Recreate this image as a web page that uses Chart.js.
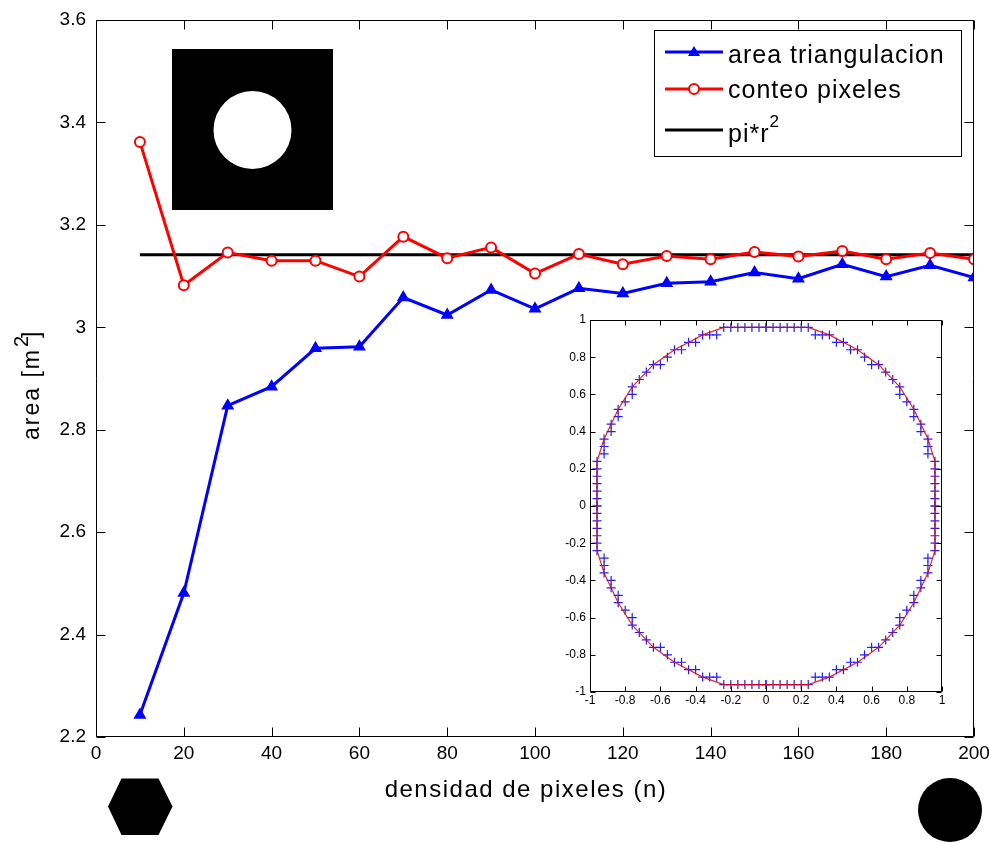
<!DOCTYPE html>
<html>
<head>
<meta charset="utf-8">
<script src="https://cdn.jsdelivr.net/npm/chart.js@4.4.1/dist/chart.umd.min.js"></script>
<style>
  html, body { margin: 0; padding: 0; background: #fff; }
  #wrap { position: relative; width: 989px; height: 843px; }
  #main { position: absolute; left: 0; top: 0; }
  #inset { position: absolute; left: 555px; top: 310px; }
</style>
</head>
<body>
<div id="wrap">
  <canvas id="main" width="989" height="843"></canvas>
  <canvas id="inset" width="395" height="400"></canvas>
</div>
<script>
// ============ datos del grafico principal ============
const densidad = [10, 20, 30, 40, 50, 60, 70, 80, 90, 100, 110, 120, 130, 140, 150, 160, 170, 180, 190, 200];
const areaTriangulacion = [2.243, 2.481, 2.847, 2.884, 2.959, 2.962, 3.058, 3.024, 3.073, 3.036,
                           3.076, 3.066, 3.086, 3.089, 3.107, 3.095, 3.123, 3.099, 3.121, 3.097];
const conteoPixeles = [3.362, 3.082, 3.146, 3.130, 3.130, 3.099, 3.177, 3.135, 3.156, 3.105,
                       3.143, 3.123, 3.139, 3.133, 3.147, 3.138, 3.149, 3.133, 3.145, 3.133];
const piR2 = 3.1416;
const piR2Desde = 10;
const piR2Hasta = 200;

// ============ datos del recuadro (primer cuadrante, se refleja) ============
const bordeX = [0, 0.04, 0.08, 0.12, 0.16, 0.2, 0.24, 0.28, 0.32, 0.36, 0.40, 0.44, 0.48, 0.52, 0.56,
                0.60, 0.64, 0.68, 0.72, 0.76, 0.76, 0.80, 0.84, 0.84, 0.88, 0.88, 0.92, 0.92, 0.92,
                0.96, 0.96, 0.96, 0.96, 0.96, 0.96, 0.96];
const bordeY = [0.96, 0.96, 0.96, 0.96, 0.96, 0.96, 0.96, 0.92, 0.92, 0.92, 0.88, 0.88, 0.84, 0.84, 0.80,
                0.76, 0.76, 0.72, 0.68, 0.64, 0.60, 0.56, 0.52, 0.48, 0.44, 0.40, 0.36, 0.32, 0.28,
                0.24, 0.20, 0.16, 0.12, 0.08, 0.04, 0];
const contornoX = [0.24, 0.36, 0.52, 0.64, 0.76, 0.84, 0.92, 0.96];
const contornoY = [0.96, 0.92, 0.84, 0.76, 0.64, 0.52, 0.36, 0.24];

const FONT = '"Liberation Sans", Arial, Helvetica, sans-serif';
const FONT_NARROW = '"Liberation Sans Narrow", "Liberation Sans", Arial, sans-serif';

// marco con marcas hacia dentro (estilo matlab)
function marco(len) {
  return {
    id: 'marco',
    afterDatasetsDraw(chart) {
      const { ctx, chartArea: a, scales } = chart;
      const l = Math.round(a.left) + 0.5, r = Math.round(a.right) - 0.5;
      const t = Math.round(a.top) + 0.5, b = Math.round(a.bottom) - 0.5;
      ctx.save();
      ctx.strokeStyle = '#000';
      ctx.lineWidth = 1;
      ctx.beginPath();
      ctx.rect(l, t, r - l, b - t);
      scales.x.ticks.forEach(tk => {
        const px = Math.round(scales.x.getPixelForValue(tk.value)) + 0.5;
        ctx.moveTo(px, b); ctx.lineTo(px, b - len);
        ctx.moveTo(px, t); ctx.lineTo(px, t + len);
      });
      scales.y.ticks.forEach(tk => {
        const py = Math.round(scales.y.getPixelForValue(tk.value)) + 0.5;
        ctx.moveTo(l, py); ctx.lineTo(l + len, py);
        ctx.moveTo(r, py); ctx.lineTo(r - len, py);
      });
      ctx.stroke();
      ctx.restore();
    }
  };
}

// imagenes, titulos y leyenda
const adornos = {
  id: 'adornos',
  beforeDatasetsDraw(chart) {
    const ctx = chart.ctx;
    ctx.save();
    ctx.fillStyle = '#000';
    ctx.fillRect(172, 49, 161, 161);
    ctx.fillStyle = '#fff';
    ctx.beginPath();
    ctx.arc(252.5, 130, 39, 0, Math.PI * 2);
    ctx.fill();
    ctx.restore();
  },
  afterDraw(chart) {
    const ctx = chart.ctx;
    ctx.save();
    ctx.fillStyle = '#000';

    // titulo eje x
    ctx.font = '24px ' + FONT;
    ctx.letterSpacing = '1.5px';
    ctx.textAlign = 'center';
    ctx.textBaseline = 'alphabetic';
    ctx.fillText('densidad de pixeles (n)', 526, 797);

    // titulo eje y
    ctx.save();
    ctx.translate(39, 440);
    ctx.rotate(-Math.PI / 2);
    ctx.textAlign = 'left';
    ctx.font = '23px ' + FONT;
    ctx.letterSpacing = '2px';
    ctx.fillText('area [m', 0, 0);
    const w = ctx.measureText('area [m').width;
    ctx.font = '20px ' + FONT;
    ctx.fillText('2', w + 1, -11);
    ctx.font = '23px ' + FONT;
    ctx.fillText(']', w + 10, 0);
    ctx.restore();

    // leyenda
    ctx.letterSpacing = '0px';
    ctx.fillStyle = '#fff';
    ctx.fillRect(654, 30, 308, 127);
    ctx.strokeStyle = '#000';
    ctx.lineWidth = 1;
    ctx.strokeRect(654.5, 30.5, 307, 126);
    const ds = chart.data.datasets;
    const filas = [52, 89, 130];
    const bases = [63, 98, 141.5];
    ds.forEach((d, i) => {
      const y = filas[i];
      ctx.strokeStyle = d.borderColor;
      ctx.lineWidth = 3;
      ctx.beginPath();
      ctx.moveTo(665, y); ctx.lineTo(723, y);
      ctx.stroke();
      if (d.pointStyle === 'triangle') {
        ctx.fillStyle = d.borderColor;
        ctx.beginPath();
        ctx.moveTo(694, y - 6); ctx.lineTo(700, y + 4); ctx.lineTo(688, y + 4);
        ctx.closePath();
        ctx.fill();
      } else if (d.pointStyle === 'circle' && d.pointRadius > 0) {
        ctx.fillStyle = '#fff';
        ctx.lineWidth = 2;
        ctx.beginPath();
        ctx.arc(694, y, 5, 0, Math.PI * 2);
        ctx.fill();
        ctx.stroke();
      }
      ctx.fillStyle = '#000';
      ctx.font = '25px ' + FONT;
      ctx.letterSpacing = '1px';
      ctx.textAlign = 'left';
      ctx.fillText(d.label, 728, bases[i]);
      if (d.superindice) {
        const lw = ctx.measureText(d.label).width;
        ctx.font = '17px ' + FONT;
        ctx.fillText(d.superindice, 728 + lw, bases[i] - 15);
      }
      ctx.letterSpacing = '0px';
    });

    // hexagono y circulo inferiores
    ctx.fillStyle = '#000';
    ctx.beginPath();
    ctx.moveTo(108, 806.5); ctx.lineTo(121.5, 778.5); ctx.lineTo(158.5, 778.5);
    ctx.lineTo(172.5, 806.5); ctx.lineTo(158.5, 835); ctx.lineTo(121.5, 835);
    ctx.closePath();
    ctx.fill();
    ctx.beginPath();
    ctx.arc(950, 810, 32, 0, Math.PI * 2);
    ctx.fill();
    ctx.restore();
  }
};

const fmt = v => String(+Number(v).toFixed(1));

new Chart(document.getElementById('main'), {
  type: 'line',
  data: {
    datasets: [
      {
        label: 'area triangulacion',
        data: densidad.map((x, i) => ({ x, y: areaTriangulacion[i] })),
        borderColor: '#0000ff', backgroundColor: '#0000ff', borderWidth: 3,
        pointStyle: 'triangle', pointRadius: 6, pointBorderWidth: 1.5,
        pointBackgroundColor: '#0000ff', pointBorderColor: '#0000ff', tension: 0
      },
      {
        label: 'conteo pixeles',
        data: densidad.map((x, i) => ({ x, y: conteoPixeles[i] })),
        borderColor: '#ff0000', backgroundColor: '#ff0000', borderWidth: 3,
        pointStyle: 'circle', pointRadius: 5, pointBorderWidth: 2,
        pointBackgroundColor: '#ffffff', pointBorderColor: '#ff0000', tension: 0
      },
      {
        label: 'pi*r', superindice: '2',
        data: [{ x: piR2Desde, y: piR2 }, { x: piR2Hasta, y: piR2 }],
        borderColor: '#000000', borderWidth: 3, pointRadius: 0, pointStyle: 'line'
      }
    ]
  },
  options: {
    responsive: false,
    animation: false,
    layout: { padding: { top: 20, right: 15, left: 0, bottom: 0 } },
    plugins: { legend: { display: false }, tooltip: { enabled: false } },
    scales: {
      x: {
        type: 'linear', min: 0, max: 200,
        ticks: { stepSize: 20, color: '#000', font: { size: 19, family: FONT }, padding: 5, maxRotation: 0 },
        grid: { display: false, drawTicks: false }, border: { display: false },
        afterFit(s) { s.height = 106; s.paddingLeft = 0; s.paddingRight = 0; }
      },
      y: {
        min: 2.2, max: 3.6,
        ticks: { stepSize: 0.2, color: '#000', font: { size: 19, family: FONT }, padding: 10, callback: fmt },
        grid: { display: false, drawTicks: false }, border: { display: false },
        afterFit(s) { s.width = 96; s.paddingTop = 0; s.paddingBottom = 0; }
      }
    }
  },
  plugins: [adornos, marco(9)]
});

// ============ recuadro: pixeles del borde y contorno ============
const cuadrantes = [[1, 1], [1, -1], [-1, -1], [-1, 1]];
const pixelesBorde = [];
cuadrantes.forEach(([sx, sy]) => {
  bordeX.forEach((x, i) => pixelesBorde.push({ x: sx * x, y: sy * bordeY[i] }));
});
const contorno = [];
cuadrantes.forEach(([sx, sy], q) => {
  const idx = contornoX.map((_, i) => i);
  if (q % 2 === 1) idx.reverse();
  idx.forEach(i => contorno.push({ x: sx * contornoX[i], y: sy * contornoY[i] }));
});
contorno.push(contorno[0]);

new Chart(document.getElementById('inset'), {
  type: 'scatter',
  data: {
    datasets: [
      {
        data: pixelesBorde, showLine: false, pointStyle: 'cross', pointRadius: 4.5,
        borderColor: '#2020ff', borderWidth: 1.2, order: 2
      },
      {
        data: contorno, showLine: true, borderColor: 'rgba(235,0,0,0.85)', borderWidth: 1.2,
        pointRadius: 0, order: 1
      }
    ]
  },
  options: {
    responsive: false,
    animation: false,
    layout: { padding: { top: 10, right: 8, left: 0, bottom: 0 } },
    plugins: { legend: { display: false }, tooltip: { enabled: false } },
    scales: {
      x: {
        type: 'linear', min: -1, max: 1,
        ticks: { stepSize: 0.2, color: '#000', font: { size: 12, family: FONT_NARROW }, padding: 1, maxRotation: 0, callback: fmt },
        grid: { display: false, drawTicks: false }, border: { display: false },
        afterFit(s) { s.height = 18; s.paddingLeft = 0; s.paddingRight = 0; }
      },
      y: {
        type: 'linear', min: -1, max: 1,
        ticks: { stepSize: 0.2, color: '#000', font: { size: 12, family: FONT_NARROW }, padding: 4, callback: fmt },
        grid: { display: false, drawTicks: false }, border: { display: false },
        afterFit(s) { s.width = 35; s.paddingTop = 0; s.paddingBottom = 0; }
      }
    }
  },
  plugins: [{
    id: 'fondo',
    beforeDraw(chart) {
      const a = chart.chartArea;
      chart.ctx.fillStyle = '#fff';
      chart.ctx.fillRect(a.left, a.top, a.right - a.left, a.bottom - a.top);
    }
  }, marco(5)]
});
</script>
</body>
</html>
